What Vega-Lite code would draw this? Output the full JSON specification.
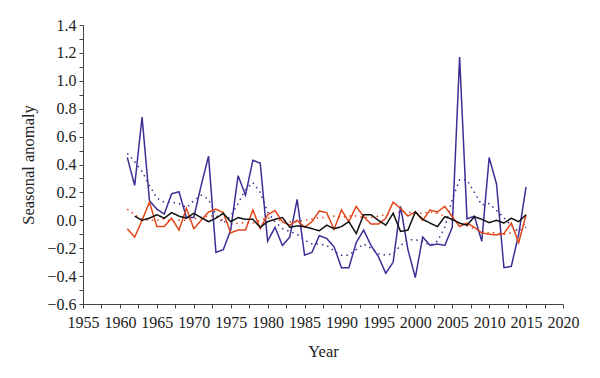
{
  "$schema": "https://vega.github.io/schema/vega-lite/v6.json",
  "width": 480,
  "height": 279,
  "autosize": {"type": "none"},
  "padding": {"left": 83, "top": 25, "right": 37, "bottom": 74},
  "background": "white",
  "config": {
    "view": {"stroke": null},
    "font": "Liberation Serif",
    "axis": {
      "labelFont": "Liberation Serif",
      "titleFont": "Liberation Serif",
      "labelFontSize": 16,
      "titleFontSize": 16.5,
      "titleFontWeight": "normal",
      "labelColor": "#222",
      "titleColor": "#222",
      "domainColor": "#444",
      "tickColor": "#444",
      "grid": false,
      "tickSize": 4
    }
  },
  "data": {
    "values": [
      {"year": 1961, "blue": 0.45, "blueSmooth": 0.48, "red": -0.06, "redSmooth": 0.08, "black": null},
      {"year": 1962, "blue": 0.25, "blueSmooth": 0.42, "red": -0.12, "redSmooth": 0.04, "black": 0.03},
      {"year": 1963, "blue": 0.74, "blueSmooth": 0.35, "red": 0.0, "redSmooth": 0.01, "black": 0.0},
      {"year": 1964, "blue": 0.14, "blueSmooth": 0.25, "red": 0.13, "redSmooth": 0.0, "black": 0.015},
      {"year": 1965, "blue": 0.08, "blueSmooth": 0.16, "red": -0.045, "redSmooth": 0.0, "black": 0.04},
      {"year": 1966, "blue": 0.045, "blueSmooth": 0.13, "red": -0.045, "redSmooth": 0.01, "black": 0.015},
      {"year": 1967, "blue": 0.19, "blueSmooth": 0.13, "red": 0.015, "redSmooth": -0.01, "black": 0.055},
      {"year": 1968, "blue": 0.205, "blueSmooth": 0.12, "red": -0.07, "redSmooth": 0.0, "black": 0.03},
      {"year": 1969, "blue": 0.02, "blueSmooth": 0.09, "red": 0.086, "redSmooth": 0.0, "black": 0.015},
      {"year": 1970, "blue": 0.02, "blueSmooth": 0.14, "red": -0.06, "redSmooth": 0.01, "black": 0.05},
      {"year": 1971, "blue": 0.25, "blueSmooth": 0.18, "red": 0.0, "redSmooth": 0.02, "black": 0.02},
      {"year": 1972, "blue": 0.46, "blueSmooth": 0.15, "red": 0.06, "redSmooth": 0.03, "black": -0.01},
      {"year": 1973, "blue": -0.23, "blueSmooth": 0.04, "red": 0.08, "redSmooth": 0.03, "black": 0.015},
      {"year": 1974, "blue": -0.21, "blueSmooth": -0.02, "red": 0.055, "redSmooth": 0.0, "black": 0.05},
      {"year": 1975, "blue": -0.07, "blueSmooth": 0.03, "red": -0.09, "redSmooth": -0.03, "black": -0.01},
      {"year": 1976, "blue": 0.32, "blueSmooth": 0.12, "red": -0.07, "redSmooth": -0.02, "black": 0.02},
      {"year": 1977, "blue": 0.18, "blueSmooth": 0.22, "red": -0.07, "redSmooth": -0.02, "black": 0.007},
      {"year": 1978, "blue": 0.43, "blueSmooth": 0.27, "red": 0.074, "redSmooth": -0.02, "black": 0.007},
      {"year": 1979, "blue": 0.41, "blueSmooth": 0.2, "red": -0.06, "redSmooth": 0.0, "black": -0.05},
      {"year": 1980, "blue": -0.15, "blueSmooth": 0.06, "red": 0.04, "redSmooth": 0.02, "black": -0.01},
      {"year": 1981, "blue": -0.05, "blueSmooth": -0.01, "red": 0.07, "redSmooth": 0.0, "black": 0.007},
      {"year": 1982, "blue": -0.18, "blueSmooth": -0.06, "red": -0.01, "redSmooth": 0.0, "black": 0.02},
      {"year": 1983, "blue": -0.12, "blueSmooth": -0.08, "red": -0.035, "redSmooth": -0.01, "black": -0.05},
      {"year": 1984, "blue": 0.15, "blueSmooth": -0.1, "red": 0.0, "redSmooth": -0.01, "black": -0.04},
      {"year": 1985, "blue": -0.25, "blueSmooth": -0.14, "red": -0.05, "redSmooth": 0.0, "black": -0.045},
      {"year": 1986, "blue": -0.23, "blueSmooth": -0.17, "red": -0.01, "redSmooth": 0.01, "black": -0.06},
      {"year": 1987, "blue": -0.11, "blueSmooth": -0.17, "red": 0.067, "redSmooth": 0.02, "black": -0.075},
      {"year": 1988, "blue": -0.13, "blueSmooth": -0.18, "red": 0.055, "redSmooth": 0.02, "black": -0.035},
      {"year": 1989, "blue": -0.19, "blueSmooth": -0.22, "red": -0.065, "redSmooth": 0.03, "black": -0.06},
      {"year": 1990, "blue": -0.34, "blueSmooth": -0.25, "red": 0.074, "redSmooth": 0.02, "black": -0.045},
      {"year": 1991, "blue": -0.34, "blueSmooth": -0.25, "red": -0.01, "redSmooth": 0.03, "black": -0.01},
      {"year": 1992, "blue": -0.16, "blueSmooth": -0.21, "red": 0.1, "redSmooth": 0.03, "black": -0.095},
      {"year": 1993, "blue": -0.07, "blueSmooth": -0.17, "red": 0.026, "redSmooth": 0.02, "black": 0.04},
      {"year": 1994, "blue": -0.18, "blueSmooth": -0.2, "red": -0.027, "redSmooth": 0.02, "black": 0.04},
      {"year": 1995, "blue": -0.26, "blueSmooth": -0.24, "red": -0.027, "redSmooth": 0.03, "black": 0.0},
      {"year": 1996, "blue": -0.38, "blueSmooth": -0.25, "red": 0.014, "redSmooth": 0.04, "black": -0.035},
      {"year": 1997, "blue": -0.3, "blueSmooth": -0.24, "red": 0.13, "redSmooth": 0.05, "black": 0.05},
      {"year": 1998, "blue": 0.1, "blueSmooth": -0.18, "red": 0.086, "redSmooth": 0.06, "black": -0.08},
      {"year": 1999, "blue": -0.21, "blueSmooth": -0.14, "red": 0.03, "redSmooth": 0.06, "black": -0.07},
      {"year": 2000, "blue": -0.41, "blueSmooth": -0.14, "red": 0.06, "redSmooth": 0.05, "black": 0.06},
      {"year": 2001, "blue": -0.12, "blueSmooth": -0.15, "red": 0.0, "redSmooth": 0.05, "black": 0.007},
      {"year": 2002, "blue": -0.18, "blueSmooth": -0.18, "red": 0.074, "redSmooth": 0.06, "black": -0.02},
      {"year": 2003, "blue": -0.17, "blueSmooth": -0.15, "red": 0.06, "redSmooth": 0.05, "black": -0.045},
      {"year": 2004, "blue": -0.18, "blueSmooth": -0.05, "red": 0.1, "redSmooth": 0.03, "black": 0.026},
      {"year": 2005, "blue": -0.05, "blueSmooth": 0.15, "red": 0.026, "redSmooth": 0.0, "black": 0.007},
      {"year": 2006, "blue": 1.17, "blueSmooth": 0.29, "red": -0.045, "redSmooth": -0.02, "black": -0.02},
      {"year": 2007, "blue": 0.01, "blueSmooth": 0.29, "red": -0.02, "redSmooth": -0.04, "black": -0.035},
      {"year": 2008, "blue": 0.03, "blueSmooth": 0.2, "red": -0.05, "redSmooth": -0.06, "black": 0.026},
      {"year": 2009, "blue": -0.15, "blueSmooth": 0.11, "red": -0.09, "redSmooth": -0.08, "black": 0.007},
      {"year": 2010, "blue": 0.45, "blueSmooth": 0.12, "red": -0.1, "redSmooth": -0.09, "black": -0.017},
      {"year": 2011, "blue": 0.26, "blueSmooth": 0.07, "red": -0.105, "redSmooth": -0.09, "black": 0.0},
      {"year": 2012, "blue": -0.34, "blueSmooth": 0.02, "red": -0.095, "redSmooth": -0.1, "black": -0.02},
      {"year": 2013, "blue": -0.33, "blueSmooth": -0.04, "red": -0.02, "redSmooth": -0.09, "black": 0.015},
      {"year": 2014, "blue": -0.1, "blueSmooth": -0.08, "red": -0.16, "redSmooth": -0.06, "black": -0.01},
      {"year": 2015, "blue": 0.24, "blueSmooth": -0.05, "red": 0.04, "redSmooth": -0.02, "black": 0.04}
    ]
  },
  "transform": [
    {"fold": ["blueSmooth", "redSmooth", "blue", "red", "black"], "as": ["series", "value"]},
    {"filter": "isValid(datum.value)"}
  ],
  "mark": {"type": "line", "strokeWidth": 1.5, "clip": true},
  "encoding": {
    "x": {
      "field": "year",
      "type": "quantitative",
      "scale": {"domain": [1955, 2020], "nice": false, "zero": false},
      "axis": {
        "title": "Year",
        "values": [1955, 1957.5, 1960, 1962.5, 1965, 1967.5, 1970, 1972.5, 1975, 1977.5, 1980, 1982.5, 1985, 1987.5, 1990, 1992.5, 1995, 1997.5, 2000, 2002.5, 2005, 2007.5, 2010, 2012.5, 2015, 2017.5, 2020],
        "labelExpr": "datum.value % 5 == 0 ? format(datum.value, 'd') : ''",
        "labelPadding": 6,
        "titlePadding": 13,
        "labelFlush": false,
        "labelOverlap": false
      }
    },
    "y": {
      "field": "value",
      "type": "quantitative",
      "scale": {"domain": [-0.6, 1.4], "nice": false, "zero": false},
      "axis": {
        "title": "Seasonal anomaly",
        "values": [-0.6, -0.5, -0.4, -0.3, -0.2, -0.1, 0, 0.1, 0.2, 0.3, 0.4, 0.5, 0.6, 0.7, 0.8, 0.9, 1.0, 1.1, 1.2, 1.3, 1.4],
        "labelExpr": "abs(round(datum.value * 10)) % 2 == 0 ? format(datum.value, '.1f') : ''",
        "labelPadding": 3,
        "titlePadding": 10,
        "labelFlush": false,
        "labelOverlap": false
      }
    },
    "color": {
      "field": "series",
      "type": "nominal",
      "scale": {"domain": ["blueSmooth", "redSmooth", "blue", "red", "black"], "range": ["#3b2f95", "#e0461a", "#3b2f95", "#e0461a", "#111111"]},
      "legend": null
    },
    "strokeDash": {
      "field": "series",
      "type": "nominal",
      "scale": {"domain": ["blueSmooth", "redSmooth", "blue", "red", "black"], "range": [[1.5, 4], [1.5, 4], [1, 0], [1, 0], [1, 0]]},
      "legend": null
    },
    "order": {"field": "year", "type": "quantitative"}
  }
}
